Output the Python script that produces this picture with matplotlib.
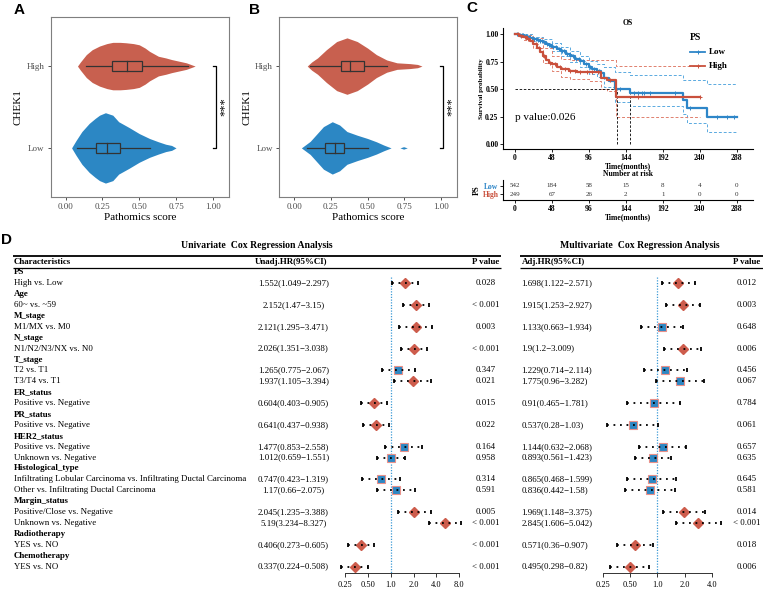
import numpy as np
import matplotlib
matplotlib.use("Agg")
import matplotlib.pyplot as plt
from matplotlib.patches import Rectangle
from matplotlib.ticker import NullLocator, FixedLocator, FixedFormatter

SERIF = ['Liberation Serif', 'DejaVu Serif']
SANS = ['Liberation Sans', 'DejaVu Sans']
plt.rcParams['font.family'] = SERIF

W, H = 763, 590
RED = '#C8604F'
BLUE = '#2C87C4'
KM_BLUE = '#2E86C8'
KM_RED = '#C9503C'
CI_BLUE = '#5AAAE0'
CI_RED = '#E0806E'

# ---------------- Data: panels A / B (violins) ----------------
score_ticks = [0.0, 0.25, 0.5, 0.75, 1.0]
score_labels = ['0.00', '0.25', '0.50', '0.75', '1.00']
chek1_groups = ['Low', 'High']

a_high_x = [0.08, 0.10, 0.14, 0.18, 0.23, 0.28, 0.32, 0.37, 0.41, 0.46, 0.50, 0.54, 0.57, 0.60, 0.63, 0.68, 0.72, 0.77, 0.82, 0.85, 0.88]
a_high_w = [0.0, 0.05, 0.14, 0.20, 0.245, 0.275, 0.29, 0.29, 0.285, 0.275, 0.26, 0.22, 0.18, 0.15, 0.12, 0.10, 0.08, 0.06, 0.04, 0.02, 0.0]
a_low_x = [0.04, 0.07, 0.11, 0.16, 0.20, 0.23, 0.27, 0.32, 0.36, 0.43, 0.50, 0.57, 0.63, 0.68, 0.72, 0.75]
a_low_w = [0.0, 0.09, 0.20, 0.30, 0.36, 0.40, 0.43, 0.40, 0.32, 0.25, 0.175, 0.115, 0.075, 0.045, 0.03, 0.0]
b_high_x = [0.09, 0.12, 0.16, 0.22, 0.29, 0.36, 0.43, 0.50, 0.56, 0.63, 0.70, 0.79, 0.84, 0.87]
b_high_w = [0.0, 0.05, 0.10, 0.20, 0.30, 0.345, 0.30, 0.22, 0.14, 0.075, 0.04, 0.03, 0.02, 0.0]
b_low_x = [0.05, 0.08, 0.11, 0.16, 0.20, 0.26, 0.31, 0.36, 0.43, 0.50, 0.56, 0.61, 0.66]
b_low_w = [0.0, 0.04, 0.08, 0.18, 0.26, 0.32, 0.28, 0.20, 0.155, 0.115, 0.075, 0.035, 0.0]
b_low_tail_x = [0.72, 0.745, 0.77]
b_low_tail_w = [0.0, 0.015, 0.0]

# box stats: [whisker_low, q1, median, q3, whisker_high]
a_low_box = [0.08, 0.204, 0.283, 0.367, 0.57]
a_high_box = [0.14, 0.313, 0.42, 0.52, 0.83]
b_low_box = [0.09, 0.208, 0.276, 0.343, 0.50]
b_high_box = [0.11, 0.318, 0.38, 0.474, 0.632]

# ---------------- Data: panel C (Kaplan-Meier) ----------------
km_low_t = [0, 4, 8, 12, 16, 20, 24, 28, 32, 36, 40, 44, 48, 54, 60, 66, 72, 78, 84, 90, 96, 100, 106, 112, 116, 122, 130, 150, 218, 224, 249]
km_low_s = [1.0, 0.995, 0.99, 0.983, 0.975, 0.965, 0.955, 0.945, 0.935, 0.925, 0.912, 0.90, 0.885, 0.865, 0.845, 0.822, 0.80, 0.775, 0.752, 0.725, 0.70, 0.68, 0.665, 0.65, 0.60, 0.57, 0.503, 0.46, 0.40, 0.33, 0.25]
km_low_end = 288
km_high_t = [0, 5, 10, 15, 20, 24, 28, 32, 36, 40, 44, 48, 54, 60, 70, 80, 112, 120, 131]
km_high_s = [1.0, 0.985, 0.97, 0.955, 0.935, 0.91, 0.87, 0.84, 0.80, 0.76, 0.74, 0.73, 0.70, 0.68, 0.665, 0.655, 0.60, 0.58, 0.425]
km_high_end = 240

ci_low_t = [0, 12, 24, 36, 48, 60, 72, 84, 96, 106, 116, 130, 150, 218, 224, 249]
ci_low_up = [1.0, 1.0, 0.975, 0.955, 0.92, 0.885, 0.845, 0.80, 0.755, 0.73, 0.70, 0.655, 0.625, 0.58, 0.58, 0.55]
ci_low_lo = [1.0, 0.97, 0.935, 0.905, 0.85, 0.80, 0.745, 0.70, 0.64, 0.61, 0.52, 0.385, 0.345, 0.27, 0.19, 0.105]
ci_high_t = [0, 12, 24, 36, 48, 60, 72, 96, 112, 120, 131]
ci_high_up = [1.0, 0.995, 0.96, 0.87, 0.80, 0.77, 0.765, 0.76, 0.76, 0.76, 0.71]
ci_high_lo = [1.0, 0.95, 0.87, 0.74, 0.66, 0.61, 0.595, 0.57, 0.50, 0.48, 0.245]

cens_low = [3, 6, 9, 11, 14, 17, 19, 22, 25, 27, 30, 33, 35, 38, 41, 44, 46, 50, 53, 57, 61, 64, 68, 71, 75, 79, 83, 88, 92, 98, 103, 109, 136, 155, 160, 165, 168, 176, 208, 228, 262, 276, 284]
cens_high = [4, 8, 13, 17, 22, 27, 31, 38, 46, 52, 58, 65, 72, 78, 85, 93, 100, 108, 124, 160, 240]
median_low = 150
median_high = 132
p_value_text = 'p value:0.026'

risk_times = [0, 48, 96, 144, 192, 240, 288]
risk_low = [542, 184, 58, 15, 8, 4, 0]
risk_high = [249, 67, 26, 2, 1, 0, 0]

# ---------------- Data: panel D (forest tables) ----------------
group_names = ['PS', 'Age', 'M_stage', 'N_stage', 'T_stage', 'ER_status', 'PR_status',
               'HER2_status', 'Histological_type', 'Margin_status', 'Radiotherapy', 'Chemotherapy']
group_levels = [
    ['High vs. Low'],
    ['60~ vs. ~59'],
    ['M1/MX vs. M0'],
    ['N1/N2/N3/NX vs. N0'],
    ['T2 vs. T1', 'T3/T4 vs. T1'],
    ['Positive vs. Negative'],
    ['Positive vs. Negative'],
    ['Positive vs. Negative', 'Unknown vs. Negative'],
    ['Infiltrating Lobular Carcinoma vs. Infiltrating Ductal Carcinoma', 'Other vs. Infiltrating Ductal Carcinoma'],
    ['Positive/Close vs. Negative', 'Unknown vs. Negative'],
    ['YES vs. NO'],
    ['YES vs. NO'],
]
uni_hr = [1.552, 2.152, 2.121, 2.026, 1.265, 1.937, 0.604, 0.641, 1.477, 1.012, 0.747, 1.17, 2.045, 5.19, 0.406, 0.337]
uni_lo = [1.049, 1.47, 1.295, 1.351, 0.775, 1.105, 0.403, 0.437, 0.853, 0.659, 0.423, 0.66, 1.235, 3.234, 0.273, 0.224]
uni_hi = [2.297, 3.15, 3.471, 3.038, 2.067, 3.394, 0.905, 0.938, 2.558, 1.551, 1.319, 2.075, 3.388, 8.327, 0.605, 0.508]
uni_p = ['0.028', '< 0.001', '0.003', '< 0.001', '0.347', '0.021', '0.015', '0.022', '0.164', '0.958', '0.314', '0.591', '0.005', '< 0.001', '< 0.001', '< 0.001']
multi_hr = [1.698, 1.915, 1.133, 1.9, 1.229, 1.775, 0.91, 0.537, 1.144, 0.893, 0.865, 0.836, 1.969, 2.845, 0.571, 0.495]
multi_lo = [1.122, 1.253, 0.663, 1.2, 0.714, 0.96, 0.465, 0.28, 0.632, 0.561, 0.468, 0.442, 1.148, 1.606, 0.36, 0.298]
multi_hi = [2.571, 2.927, 1.934, 3.009, 2.114, 3.282, 1.781, 1.03, 2.068, 1.423, 1.599, 1.58, 3.375, 5.042, 0.907, 0.82]
multi_p = ['0.012', '0.003', '0.648', '0.006', '0.456', '0.067', '0.784', '0.061', '0.657', '0.635', '0.645', '0.581', '0.014', '< 0.001', '0.018', '0.006']
uni_ticks = [0.25, 0.5, 1.0, 2.0, 4.0, 8.0]
uni_tick_labels = ['0.25', '0.50', '1.0', '2.0', '4.0', '8.0']
multi_ticks = [0.25, 0.5, 1.0, 2.0, 4.0]
multi_tick_labels = ['0.25', '0.50', '1.0', '2.0', '4.0']

# ---------------- Figure ----------------
fig = plt.figure(figsize=(W / 100, H / 100), dpi=100)


def px_axes(x0, y0, x1, y1):
    return fig.add_axes([x0 / W, 1 - y1 / H, (x1 - x0) / W, (y1 - y0) / H])


ov = fig.add_axes([0, 0, 1, 1])
ov.set_xlim(0, W)
ov.set_ylim(H, 0)
ov.axis('off')
ov.set_zorder(10)
ov.patch.set_alpha(0)


# ---------- A / B ----------
def violin_panel(ax, profiles, boxes, bracket_x, star_x):
    for pos, (xs, ws, col) in profiles:
        xs = np.asarray(xs)
        ws = np.asarray(ws)
        ax.fill_between(xs, pos - ws, pos + ws, color=col, lw=0, zorder=1)
    for pos, (stats, col) in boxes:
        wl, q1, md, q3, wh = stats
        ax.plot([wl, q1], [pos, pos], color='#333333', lw=0.9, zorder=2)
        ax.plot([q3, wh], [pos, pos], color='#333333', lw=0.9, zorder=2)
        ax.add_patch(Rectangle((q1, pos - 0.062), q3 - q1, 0.124, facecolor=col,
                               edgecolor='#333333', lw=0.9, zorder=3))
        ax.plot([md, md], [pos - 0.062, pos + 0.062], color='#333333', lw=0.9, zorder=4)
    ax.plot([bracket_x - 0.022, bracket_x, bracket_x, bracket_x - 0.022], [2, 2, 1, 1],
            color='black', lw=0.9)
    ax.text(star_x, 1.5, '***', rotation=90, ha='center', va='center', fontsize=9)
    ax.set_xlim(-0.1, 1.11)
    ax.set_ylim(0.4, 2.6)
    ax.set_xticks(score_ticks)
    ax.set_xticklabels(score_labels)
    ax.set_yticks([1, 2])
    ax.set_yticklabels(chek1_groups)
    ax.tick_params(labelsize=6.5, labelcolor='#4D4D4D', color='#333333', length=2.5, width=0.6, pad=2)
    for s in ax.spines.values():
        s.set_color('#7F7F7F')
        s.set_linewidth(0.8)
    ax.set_xlabel('Pathomics score', fontsize=8, labelpad=1)
    ax.set_ylabel('CHEK1', fontsize=8, labelpad=3)
    ax.patch.set_alpha(0)


axA = px_axes(51, 17, 229, 197)
violin_panel(axA,
             [(2, (a_high_x, a_high_w, RED)), (1, (a_low_x, a_low_w, BLUE))],
             [(2, (a_high_box, RED)), (1, (a_low_box, BLUE))], 1.02, 1.08)
axB = px_axes(279.3, 17, 457.3, 197)
violin_panel(axB,
             [(2, (b_high_x, b_high_w, RED)), (1, (b_low_x, b_low_w, BLUE)),
              (1, (b_low_tail_x, b_low_tail_w, BLUE))],
             [(2, (b_high_box, RED)), (1, (b_low_box, BLUE))], 1.015, 1.07)

# ---------- C ----------
axC = px_axes(503.3, 28, 753, 149)
xl = (-15.2, 309.2)


def step_vals(t, s, q):
    idx = np.searchsorted(np.asarray(t), np.asarray(q), side='right') - 1
    return np.asarray(s)[idx]


for t, up, lo, col, end in [(ci_low_t, ci_low_up, ci_low_lo, CI_BLUE, km_low_end),
                            (ci_high_t, ci_high_up, ci_high_lo, CI_RED, km_high_end)]:
    tt = list(t) + [end]
    axC.step(tt, list(up) + [up[-1]], where='post', color=col, lw=0.7, ls=(0, (3, 2)))
    axC.step(tt, list(lo) + [lo[-1]], where='post', color=col, lw=0.7, ls=(0, (3, 2)))

axC.plot([0, median_low], [0.5, 0.5], color='black', lw=0.6, ls=(0, (3, 2)))
for m in (median_low, median_high):
    axC.plot([m, m], [0, 0.5], color='black', lw=0.6, ls=(0, (3, 2)))

for t, s, end, col, cens in [(km_low_t, km_low_s, km_low_end, KM_BLUE, cens_low),
                             (km_high_t, km_high_s, km_high_end, KM_RED, cens_high)]:
    axC.step(list(t) + [end], list(s) + [s[-1]], where='post', color=col, lw=1.6)
    axC.plot(cens, step_vals(t, s, cens), ls='none', marker='+', ms=3.2, mew=0.7, color=col)

axC.text(0, 0.24, p_value_text, fontsize=8, ha='left', va='center')
axC.set_xlim(*xl)
axC.set_ylim(-0.045, 1.0545)
axC.set_xticks(risk_times)
axC.set_yticks([0, 0.25, 0.5, 0.75, 1.0])
axC.set_yticklabels(['0.00', '0.25', '0.50', '0.75', '1.00'])
axC.tick_params(labelsize=5.5, length=2, width=0.6, pad=1.5)
for lab in axC.get_xticklabels() + axC.get_yticklabels():
    lab.set_fontweight('bold')
axC.spines['top'].set_visible(False)
axC.spines['right'].set_visible(False)
axC.spines['left'].set_linewidth(0.8)
axC.spines['bottom'].set_linewidth(0.8)
axC.set_title('OS', fontsize=5.5, fontweight='bold', pad=2)
axC.set_xlabel('Time(months)', fontsize=5.5, fontweight='bold', labelpad=0)
axC.set_ylabel('Survival probability', fontsize=5, fontweight='bold', labelpad=1)
axC.patch.set_alpha(0)

# legend (drawn manually)
ov.text(690, 38, 'PS', fontsize=7, fontweight='bold', ha='left', va='center')
for yy, col, lab in [(52, KM_BLUE, 'Low'), (66, KM_RED, 'High')]:
    ov.plot([690, 705], [yy, yy], color=col, lw=1.3)
    ov.plot([697.5], [yy], marker='+', color=col, ms=3.2, mew=0.7)
    ov.text(709, yy, lab, fontsize=6.5, fontweight='bold', ha='left', va='center')

# risk table
axR = px_axes(503.3, 180.5, 753, 200.3)
for i, tm in enumerate(risk_times):
    axR.text(tm, 2, str(risk_low[i]), ha='center', va='center', fontsize=5, color='#333333')
    axR.text(tm, 1, str(risk_high[i]), ha='center', va='center', fontsize=5, color='#333333')
axR.set_xlim(*xl)
axR.set_ylim(0.28, 2.66)
axR.set_xticks(risk_times)
axR.set_yticks([2, 1])
axR.set_yticklabels(['Low', 'High'])
axR.tick_params(labelsize=5.5, length=2, width=0.6, pad=1.5)
for lab in axR.get_xticklabels() + axR.get_yticklabels():
    lab.set_fontweight('bold')
axR.get_yticklabels()[0].set_color(KM_BLUE)
axR.get_yticklabels()[1].set_color(KM_RED)
axR.spines['top'].set_visible(False)
axR.spines['right'].set_visible(False)
axR.set_title('Number at risk', fontsize=5.5, fontweight='bold', pad=3)
axR.set_xlabel('Time(months)', fontsize=5.5, fontweight='bold', labelpad=0)
axR.set_ylabel('PS', fontsize=6, fontweight='bold', labelpad=1)
axR.patch.set_alpha(0)

# ---------- D ----------
ROW0, DY = 272.3, 10.9
rows = []  # (label, is_header, data_index)
k = 0
for g, levels in zip(group_names, group_levels):
    rows.append((g, True, None))
    for lv in levels:
        rows.append((lv, False, k))
        k += 1

FS = 6.4
for i, (lab, hdr, di) in enumerate(rows):
    y = ROW0 + i * DY
    ov.text(14, y, lab, fontsize=FS, fontweight='bold' if hdr else 'normal', ha='left', va='center')
    if di is not None:
        ov.text(293.3, y, f"{uni_hr[di]:g}({uni_lo[di]:g}\u2212{uni_hi[di]:g})", fontsize=FS,
                ha='center', va='center')
        ov.text(485.8, y, uni_p[di], fontsize=FS, ha='center', va='center')
        ov.text(521.5, y, f"{multi_hr[di]:g}({multi_lo[di]:g}\u2212{multi_hi[di]:g})", fontsize=FS,
                ha='left', va='center')
        ov.text(746.7, y, multi_p[di], fontsize=FS, ha='center', va='center')

HY = 262.3
ov.text(14, HY, 'Characteristics', fontsize=FS, fontweight='bold', ha='left', va='center')
ov.text(255, HY, 'Unadj.HR(95%CI)', fontsize=FS, fontweight='bold', ha='left', va='center')
ov.text(486, HY, 'P value', fontsize=FS, fontweight='bold', ha='center', va='center')
ov.text(521.5, HY, 'Adj.HR(95%CI)', fontsize=FS, fontweight='bold', ha='left', va='center')
ov.text(746.5, HY, 'P value', fontsize=FS, fontweight='bold', ha='center', va='center')
ov.text(256.7, 245.7, 'Univariate  Cox Regression Analysis', fontsize=7, fontweight='bold',
        ha='center', va='center')
ov.text(640, 245.7, 'Multivariate  Cox Regression Analysis', fontsize=7, fontweight='bold',
        ha='center', va='center')
for x0, x1 in [(13, 500.7), (520, 763)]:
    ov.plot([x0, x1], [256, 256], color='black', lw=1.3, solid_capstyle='butt')
    ov.plot([x0, x1], [267.7, 267.7], color='black', lw=0.9, solid_capstyle='butt')


def forest(ax, hr, lo, hi, pv, ticks, tlabels, xlim):
    ax.set_xscale('log', base=2)
    ax.set_xlim(*xlim)
    ybot = (573.3 - ROW0) / DY
    ytop = (256 - ROW0) / DY
    ax.set_ylim(ybot, ytop)
    ax.plot([1, 1], [0.4, ybot], color='#3D9BD6', lw=0.9, ls=(0, (1, 1.2)), zorder=1)
    data_rows = [i for i, r in enumerate(rows) if r[2] is not None]
    for j, ri in enumerate(data_rows):
        sig = pv[j].startswith('<') or float(pv[j]) < 0.05
        if sig:
            ax.plot([hr[j]], [ri], marker='D', ms=5.4, color='#CD5C4C', mec='#CD5C4C', ls='none', zorder=2)
        else:
            ax.plot([hr[j]], [ri], marker='s', ms=6.3, color=BLUE, mec='#E8918A', mew=0.8, ls='none', zorder=2)
        ax.plot([lo[j], hi[j]], [ri, ri], color='black', lw=1.3, ls=(0, (1, 2.6)), zorder=3)
        ax.plot([lo[j], hi[j]], [ri, ri], ls='none', marker='|', ms=3, mew=1.3, color='black', zorder=3)
    ax.xaxis.set_major_locator(FixedLocator(ticks))
    ax.xaxis.set_major_formatter(FixedFormatter(tlabels))
    ax.xaxis.set_minor_locator(NullLocator())
    ax.set_yticks([])
    for s in ['top', 'right', 'left']:
        ax.spines[s].set_visible(False)
    ax.spines['bottom'].set_bounds(ticks[0], ticks[-1])
    ax.spines['bottom'].set_linewidth(0.7)
    ax.spines['bottom'].set_color('#333333')
    ax.tick_params(axis='x', labelsize=6, length=3, width=0.7, color='#333333', pad=2.5)
    ax.patch.set_alpha(0)


axU = px_axes(335, 256, 470, 573.3)
forest(axU, uni_hr, uni_lo, uni_hi, uni_p, uni_ticks, uni_tick_labels, (0.1846, 11.07))
axM = px_axes(595, 256, 730, 573.3)
forest(axM, multi_hr, multi_lo, multi_hi, multi_p, multi_ticks, multi_tick_labels, (0.2056, 6.33))

# panel letters
for lab, x, y in [('A', 19, 10), ('B', 255, 10), ('C', 472, 8), ('D', 6, 239.5)]:
    ov.text(x, y, lab, family=SANS, fontweight='bold', fontsize=11, ha='center', va='center')

fig.savefig('out.png', dpi=100)
